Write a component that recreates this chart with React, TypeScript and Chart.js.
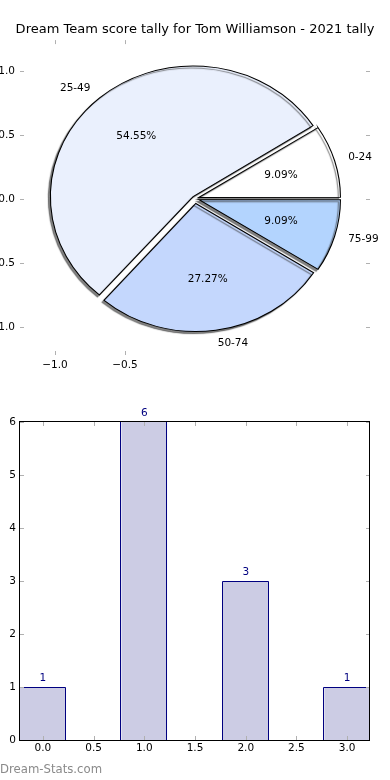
import React, { useEffect, useRef } from 'react';
import { Chart, registerables } from 'chart.js';

Chart.register(...registerables);

const TITLE = 'Dream Team score tally for Tom Williamson - 2021 tally';
const WATERMARK = 'Dream-Stats.com';

// Pie data (matplotlib order, counter-clockwise from 3 o'clock)
const pieLabels = ['0-24', '25-49', '50-74', '75-99'];
const pieValues = [1, 6, 3, 1];
const pieColors = ['#ffffff', '#eaf0fd', '#c4d7fd', '#b3d4fe'];
const pieXTicks = [-1.0, -0.5];
const pieYTicks = [1.0, 0.5, 0.0, -0.5, -1.0];

// Bar data
const barPositions = [0, 1, 2, 3];
const barValues = [1, 6, 3, 1];
const barXTicks = [0, 0.5, 1, 1.5, 2, 2.5, 3];
const barYTicks = [0, 1, 2, 3, 4, 5, 6];

const FONT = "'DejaVu Sans', sans-serif";
const R = 128; // pie radius (vertical, px)
const SX = 140 / 128; // horizontal stretch of the pie (non-equal aspect)
const EXPLODE = 0.04;
const TICK_COLOR = '#b0b0b0';
const BAR_EDGE = '#000080';

const fmt1 = (v: number) => (v < 0 ? '\u2212' : '') + Math.abs(v).toFixed(1);

const innerTicksPlugin = {
  id: 'innerTicks',
  afterDraw(chart: any) {
    const { ctx, chartArea: a } = chart;
    const len = 4;
    const xs = chart.scales.x;
    const ys = chart.scales.y;
    ctx.save();
    ctx.strokeStyle = TICK_COLOR;
    ctx.lineWidth = 1;
    ctx.beginPath();
    xs.ticks.forEach((t: any) => {
      const p = Math.round(xs.getPixelForValue(t.value)) + 0.5;
      ctx.moveTo(p, a.top);
      ctx.lineTo(p, a.top + len);
      ctx.moveTo(p, a.bottom);
      ctx.lineTo(p, a.bottom - len);
    });
    ys.ticks.forEach((t: any) => {
      const p = Math.round(ys.getPixelForValue(t.value)) + 0.5;
      ctx.moveTo(a.left, p);
      ctx.lineTo(a.left + len, p);
      ctx.moveTo(a.right, p);
      ctx.lineTo(a.right - len, p);
    });
    ctx.stroke();
    ctx.restore();
  },
};

const framePlugin = {
  id: 'frame',
  afterDraw(chart: any) {
    const { ctx, chartArea: a } = chart;
    const l = Math.round(a.left) - 0.5;
    const r = Math.round(a.right) - 0.5;
    const t = Math.round(a.top) - 0.5;
    const b = Math.round(a.bottom) + 0.5;
    ctx.save();
    ctx.strokeStyle = '#000';
    ctx.lineWidth = 1;
    ctx.strokeRect(l, t, r - l, b - t);
    ctx.restore();
  },
};

const barLabelPlugin = {
  id: 'barLabels',
  afterDatasetsDraw(chart: any) {
    const { ctx, chartArea: a } = chart;
    const meta = chart.getDatasetMeta(0);
    ctx.save();
    // crisp outlines from the bar elements' geometry
    ctx.strokeStyle = BAR_EDGE;
    ctx.lineWidth = 1;
    meta.data.forEach((bar: any) => {
      const l = Math.round(bar.x - bar.width / 2) - 0.5;
      const r = Math.round(bar.x + bar.width / 2) - 0.5;
      const t = bar.y - a.top < 1 ? Math.round(a.top) - 0.5 : Math.round(bar.y) + 0.5;
      const b = Math.round(bar.base) + 0.5;
      ctx.beginPath();
      ctx.moveTo(l, b);
      ctx.lineTo(l, t);
      ctx.lineTo(r, t);
      ctx.lineTo(r, b);
      ctx.stroke();
    });
    ctx.fillStyle = BAR_EDGE;
    ctx.font = `10.5px ${FONT}`;
    ctx.textAlign = 'center';
    ctx.textBaseline = 'alphabetic';
    meta.data.forEach((bar: any, i: number) => {
      const v = chart.data.datasets[0].data[i].y;
      ctx.fillText(String(v), bar.x, bar.y - 6);
    });
    ctx.restore();
  },
};

const piePlugin = {
  id: 'pieEllipse',
  beforeDatasetsDraw(chart: any) {
    const { ctx } = chart;
    const arc = chart.getDatasetMeta(0).data[0];
    const cx = arc.x;
    const cy = arc.y;
    ctx.save();
    ctx.translate(cx, cy);
    ctx.scale(SX, 1);
    ctx.translate(-cx, -cy);
    ctx.shadowColor = 'rgba(50,50,50,0.6)';
    ctx.shadowOffsetX = -2;
    ctx.shadowOffsetY = 2;
    ctx.shadowBlur = 1;
  },
  afterDatasetsDraw(chart: any) {
    const { ctx } = chart;
    ctx.restore();
    const meta = chart.getDatasetMeta(0);
    const data: number[] = chart.data.datasets[0].data;
    const total = data.reduce((s, v) => s + v, 0);
    ctx.save();
    ctx.fillStyle = '#000';
    ctx.font = `10.5px ${FONT}`;
    ctx.textBaseline = 'middle';
    meta.data.forEach((arc: any, i: number) => {
      const mid = (arc.startAngle + arc.endAngle) / 2;
      const rad = arc.outerRadius;
      const d = EXPLODE * rad;
      const cos = Math.cos(mid);
      const sin = Math.sin(mid);
      const rp = 0.6 * rad + d;
      ctx.textAlign = 'center';
      ctx.fillText(((data[i] / total) * 100).toFixed(2) + '%', arc.x + cos * rp * SX, arc.y + sin * rp);
      const rl = 1.1 * rad + d;
      ctx.textAlign = cos >= 0 ? 'left' : 'right';
      ctx.fillText(chart.data.labels[i], arc.x + cos * rl * SX, arc.y + sin * rl);
    });
    ctx.restore();
  },
};

export default function App() {
  const axisRef = useRef<HTMLCanvasElement>(null);
  const pieRef = useRef<HTMLCanvasElement>(null);
  const barRef = useRef<HTMLCanvasElement>(null);

  useEffect(() => {
    Chart.defaults.font.family = FONT;
    Chart.defaults.font.size = 10.5;
    Chart.defaults.color = '#000';
    const charts: Chart[] = [];

    // Axes frame around the pie (ticks only, no spines)
    charts.push(
      new Chart(axisRef.current as HTMLCanvasElement, {
        type: 'scatter',
        data: { datasets: [] },
        options: {
          responsive: false,
          animation: false,
          events: [],
          layout: { padding: 0 },
          plugins: {
            legend: { display: false },
            tooltip: { enabled: false },
            title: {
              display: true,
              text: TITLE,
              color: '#000',
              font: { size: 13, family: FONT, weight: 'normal' as any },
              padding: { top: 21.5, bottom: 3 },
            },
          },
          scales: {
            x: {
              type: 'linear',
              min: -1.25,
              max: 1.25,
              grid: { display: false, drawTicks: false },
              border: { display: false },
              afterBuildTicks: (s: any) => {
                s.ticks = pieXTicks.map((v) => ({ value: v }));
              },
              afterFit: (s: any) => {
                s.height = 25;
              },
              ticks: { padding: 4, maxRotation: 0, callback: (v: any) => fmt1(Number(v)) },
            },
            y: {
              type: 'linear',
              position: 'left',
              min: -1.22,
              max: 1.24,
              grid: { display: false, drawTicks: false },
              border: { display: false },
              afterBuildTicks: (s: any) => {
                s.ticks = pieYTicks.map((v) => ({ value: v }));
              },
              afterFit: (s: any) => {
                s.width = 20;
              },
              ticks: { padding: 5, callback: (v: any) => fmt1(Number(v)) },
            },
            y2: {
              type: 'linear',
              position: 'right',
              min: -1.22,
              max: 1.24,
              grid: { display: false, drawTicks: false },
              border: { display: false },
              ticks: { display: false },
              afterFit: (s: any) => {
                s.width = 20;
              },
            },
          },
        } as any,
        plugins: [innerTicksPlugin],
      })
    );

    // Pie (Chart.js draws clockwise, so reverse to mimic matplotlib's counter-clockwise)
    const oLabels = [...pieLabels].reverse();
    const oValues = [...pieValues].reverse();
    const oColors = [...pieColors].reverse();
    const total = oValues.reduce((s, v) => s + v, 0);
    charts.push(
      new Chart(pieRef.current as HTMLCanvasElement, {
        type: 'pie',
        data: {
          labels: oLabels,
          datasets: [
            {
              data: oValues,
              backgroundColor: oColors,
              borderColor: '#000',
              borderWidth: 1,
              borderJoinStyle: 'miter' as any,
              offset: (c: any) => {
                const v = oValues[c.dataIndex];
                const circ = (v / total) * Math.PI * 2;
                const fix = 1 - Math.sin(Math.min(Math.PI, circ));
                return (EXPLODE * R * 4) / (1 + fix);
              },
            } as any,
          ],
        },
        options: {
          responsive: false,
          animation: false,
          events: [],
          radius: R,
          rotation: 90,
          layout: { padding: { top: 17, bottom: 0, left: 0, right: 0 } },
          plugins: { legend: { display: false }, tooltip: { enabled: false } },
        } as any,
        plugins: [piePlugin],
      })
    );

    // Bar chart
    charts.push(
      new Chart(barRef.current as HTMLCanvasElement, {
        type: 'bar',
        data: {
          datasets: [
            {
              data: barPositions.map((x, i) => ({ x, y: barValues[i] })),
              backgroundColor: '#ccccE4',
              borderWidth: 0,
              inflateAmount: 0,
              barPercentage: 0.9,
              categoryPercentage: 1,
            } as any,
          ],
        },
        options: {
          responsive: false,
          animation: false,
          events: [],
          layout: { padding: { left: 0, right: 20, top: 42, bottom: 0 } },
          plugins: { legend: { display: false }, tooltip: { enabled: false } },
          scales: {
            x: {
              type: 'linear',
              min: -0.225,
              max: 3.225,
              offset: false,
              grid: { display: false, drawTicks: false },
              border: { display: false },
              afterBuildTicks: (s: any) => {
                s.ticks = barXTicks.map((v) => ({ value: v }));
              },
              afterFit: (s: any) => {
                s.height = 40;
              },
              ticks: { padding: 2, maxRotation: 0, callback: (v: any) => Number(v).toFixed(1) },
            },
            y: {
              type: 'linear',
              min: 0,
              max: 6,
              grid: { display: false, drawTicks: false },
              border: { display: false },
              afterBuildTicks: (s: any) => {
                s.ticks = barYTicks.map((v) => ({ value: v }));
              },
              afterFit: (s: any) => {
                s.width = 20;
              },
              ticks: { padding: 4, callback: (v: any) => String(v) },
            },
          },
        } as any,
        plugins: [barLabelPlugin, innerTicksPlugin, framePlugin],
      })
    );

    return () => charts.forEach((c) => c.destroy());
  }, []);

  return (
    <div
      style={{
        position: 'absolute',
        left: 0,
        top: 0,
        width: 390,
        height: 780,
        background: '#fff',
        overflow: 'hidden',
      }}
    >
      <canvas ref={axisRef} width={390} height={380} style={{ position: 'absolute', left: 0, top: 0 }} />
      <canvas ref={pieRef} width={390} height={380} style={{ position: 'absolute', left: 0, top: 0 }} />
      <canvas ref={barRef} width={390} height={400} style={{ position: 'absolute', left: 0, top: 380 }} />
      <div
        style={{
          position: 'absolute',
          left: 0,
          top: 761,
          font: `11.7px ${FONT}`,
          color: '#8a8a8a',
          lineHeight: '16px',
          whiteSpace: 'nowrap',
        }}
      >
        {WATERMARK}
      </div>
    </div>
  );
}
